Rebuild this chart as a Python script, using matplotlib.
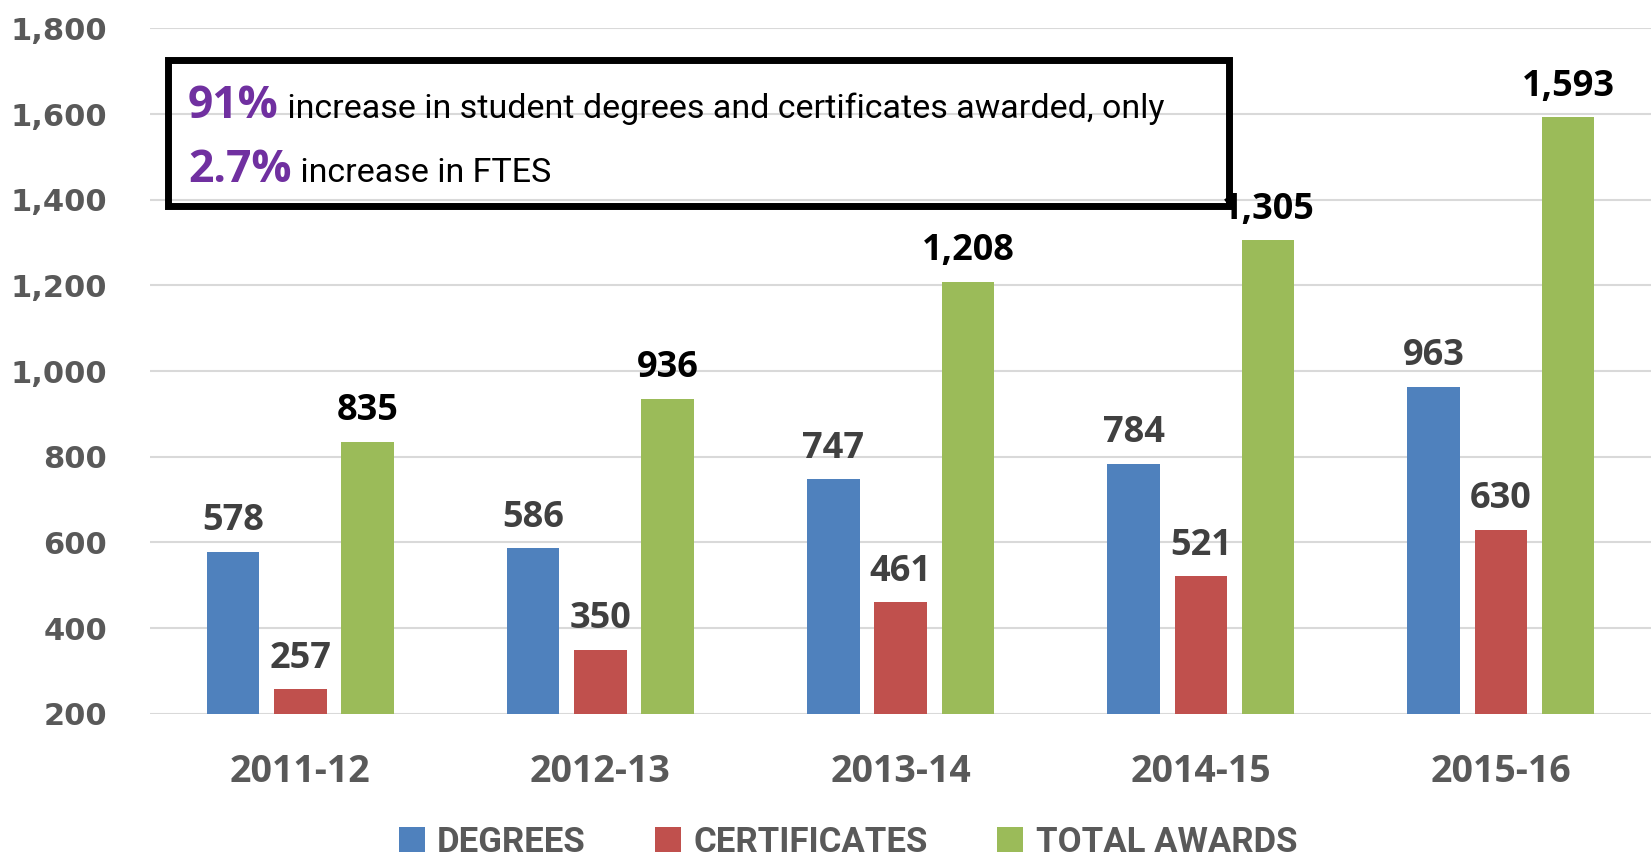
import matplotlib.pyplot as plt
import numpy as np
from matplotlib.patches import Rectangle

years = ["2011-12", "2012-13", "2013-14", "2014-15", "2015-16"]
degrees = [578, 586, 747, 784, 963]
certificates = [257, 350, 461, 521, 630]
total_awards = [835, 936, 1208, 1305, 1593]
series_names = ["DEGREES", "CERTIFICATES", "TOTAL AWARDS"]

colors = ["#4F81BD", "#C0504D", "#9BBB59"]
label_colors = ["#404040", "#404040", "#000000"]
gray = "#595959"
purple = "#7030A0"
label_font = ["Open Sans", "DejaVu Sans"]
narrow_font = ["Roboto", "DejaVu Sans"]

fig = plt.figure(figsize=(16.51, 8.59), dpi=100)
ax = fig.add_axes([0.091, 0.169, 0.909, 0.798])

x = np.arange(len(years))
width = 0.175
step = 0.224
base = 200
for i, (vals, c, lc) in enumerate(zip([degrees, certificates, total_awards], colors, label_colors)):
    heights = [v - base for v in vals]
    bars = ax.bar(x + (i - 1) * step, heights, width, bottom=base, color=c,
                  label=series_names[i], zorder=3)
    ax.bar_label(bars, labels=[f"{v:,}" for v in vals], padding=9,
                 fontsize=26, fontweight="bold", color=lc, family=label_font)

ax.set_xlim(-0.5, 4.5)
ax.set_ylim(200, 1800)
ax.set_yticks(range(200, 1801, 200))
ax.set_yticklabels([f"{v:,}" for v in range(200, 1801, 200)])
ax.set_xticks(x)
ax.set_xticklabels(years)
ax.grid(axis="y", color="#D9D9D9", linewidth=1.5, zorder=0)
for s in ax.spines.values():
    s.set_visible(False)
ax.tick_params(length=0)
ax.tick_params(axis="y", pad=31, labelsize=22, labelcolor=gray)
ax.tick_params(axis="x", pad=28, labelsize=27, labelcolor=gray)
for t in ax.get_yticklabels():
    t.set_fontweight("bold")
    t.set_family("DejaVu Sans")
for t in ax.get_xticklabels():
    t.set_fontweight("bold")
    t.set_family(label_font)

leg = ax.legend(loc="upper center", bbox_to_anchor=(0.465, -0.128), ncol=3, frameon=False,
                handlelength=0.75, handleheight=0.75, handletextpad=0.35, columnspacing=2.0,
                borderpad=0.2, prop={"family": narrow_font, "weight": "bold", "size": 25})
for t in leg.get_texts():
    t.set_color(gray)

# annotation box
fig.add_artist(Rectangle((168 / 1651, 1 - 206 / 859), (1229 - 168) / 1651, (206 - 60) / 859,
                         transform=fig.transFigure, fill=False, edgecolor="black",
                         linewidth=5, zorder=5))
renderer = fig.canvas.get_renderer()
lines = [("91%", " increase in student degrees and certificates awarded, only", 118),
         ("2.7%", " increase in FTES", 182)]
for big, rest, ypx in lines:
    t = fig.text(188 / 1651, 1 - ypx / 859, big, color=purple, fontsize=32,
                 fontweight="bold", family=label_font, va="baseline")
    x1 = t.get_window_extent(renderer).x1
    fig.text(x1 / fig.bbox.width, 1 - ypx / 859, rest, fontsize=24.5,
             family=narrow_font, color="black", va="baseline")

fig.savefig("out.png", dpi=100)
